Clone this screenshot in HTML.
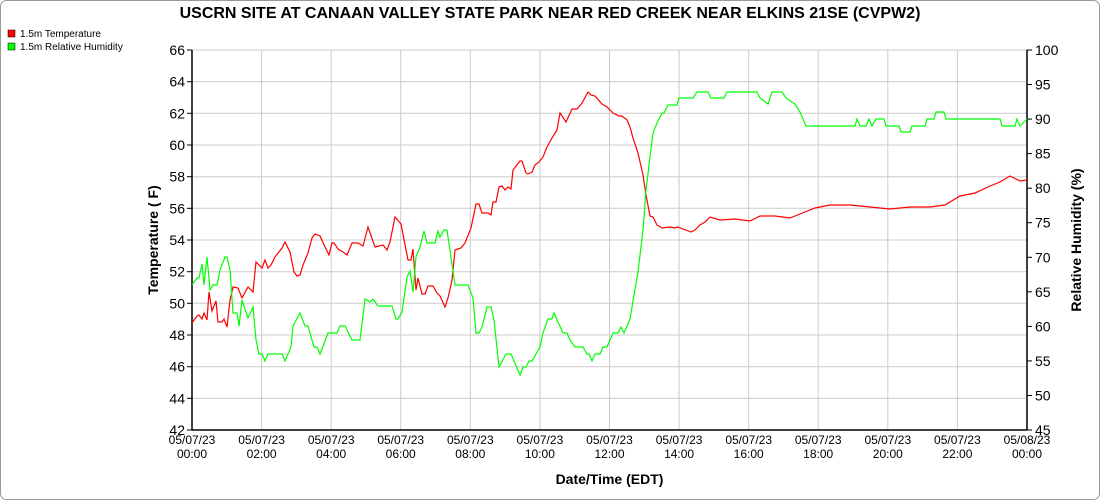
<!DOCTYPE html>
<html><head><meta charset="utf-8"><style>
body{margin:0;background:#fff;}
svg{display:block;font-family:"Liberation Sans",sans-serif;}
</style></head><body>
<svg width="1100" height="500" viewBox="0 0 1100 500">
<rect x="0.5" y="0.5" width="1099" height="499" rx="6" fill="#fff" stroke="#999"/>
<text x="550" y="18" font-size="16" font-weight="bold" text-anchor="middle">USCRN SITE AT CANAAN VALLEY STATE PARK NEAR RED CREEK NEAR ELKINS 21SE (CVPW2)</text>
<rect x="8" y="30" width="7" height="7" fill="#f00" stroke="#000" stroke-width="0.5"/>
<text x="20" y="37" font-size="10">1.5m Temperature</text>
<rect x="8" y="43" width="7" height="7" fill="#0f0" stroke="#000" stroke-width="0.5"/>
<text x="20" y="50" font-size="10">1.5m Relative Humidity</text>
<g stroke="#ccc" stroke-width="1">
<line x1="192" y1="50" x2="1027" y2="50"/><line x1="192" y1="81.7" x2="1027" y2="81.7"/><line x1="192" y1="113.3" x2="1027" y2="113.3"/><line x1="192" y1="145" x2="1027" y2="145"/><line x1="192" y1="176.7" x2="1027" y2="176.7"/><line x1="192" y1="208.3" x2="1027" y2="208.3"/><line x1="192" y1="240" x2="1027" y2="240"/><line x1="192" y1="271.7" x2="1027" y2="271.7"/><line x1="192" y1="303.3" x2="1027" y2="303.3"/><line x1="192" y1="335" x2="1027" y2="335"/><line x1="192" y1="366.7" x2="1027" y2="366.7"/><line x1="192" y1="398.3" x2="1027" y2="398.3"/>
<line x1="261.6" y1="50" x2="261.6" y2="430"/><line x1="331.2" y1="50" x2="331.2" y2="430"/><line x1="400.7" y1="50" x2="400.7" y2="430"/><line x1="470.3" y1="50" x2="470.3" y2="430"/><line x1="539.9" y1="50" x2="539.9" y2="430"/><line x1="609.5" y1="50" x2="609.5" y2="430"/><line x1="679.1" y1="50" x2="679.1" y2="430"/><line x1="748.7" y1="50" x2="748.7" y2="430"/><line x1="818.2" y1="50" x2="818.2" y2="430"/><line x1="887.8" y1="50" x2="887.8" y2="430"/><line x1="957.4" y1="50" x2="957.4" y2="430"/>
</g>
<g stroke="#000" stroke-width="1.5" fill="none">
<line x1="192" y1="50" x2="192" y2="430"/><line x1="1027" y1="50" x2="1027" y2="430"/><line x1="192" y1="430" x2="1027" y2="430"/>
</g>
<g stroke="#000" stroke-width="1">
<line x1="187" y1="50" x2="192" y2="50"/><line x1="187" y1="81.7" x2="192" y2="81.7"/><line x1="187" y1="113.3" x2="192" y2="113.3"/><line x1="187" y1="145" x2="192" y2="145"/><line x1="187" y1="176.7" x2="192" y2="176.7"/><line x1="187" y1="208.3" x2="192" y2="208.3"/><line x1="187" y1="240" x2="192" y2="240"/><line x1="187" y1="271.7" x2="192" y2="271.7"/><line x1="187" y1="303.3" x2="192" y2="303.3"/><line x1="187" y1="335" x2="192" y2="335"/><line x1="187" y1="366.7" x2="192" y2="366.7"/><line x1="187" y1="398.3" x2="192" y2="398.3"/><line x1="187" y1="430" x2="192" y2="430"/>
<line x1="1027" y1="50" x2="1032" y2="50"/><line x1="1027" y1="84.5" x2="1032" y2="84.5"/><line x1="1027" y1="119.1" x2="1032" y2="119.1"/><line x1="1027" y1="153.6" x2="1032" y2="153.6"/><line x1="1027" y1="188.2" x2="1032" y2="188.2"/><line x1="1027" y1="222.7" x2="1032" y2="222.7"/><line x1="1027" y1="257.3" x2="1032" y2="257.3"/><line x1="1027" y1="291.8" x2="1032" y2="291.8"/><line x1="1027" y1="326.4" x2="1032" y2="326.4"/><line x1="1027" y1="360.9" x2="1032" y2="360.9"/><line x1="1027" y1="395.5" x2="1032" y2="395.5"/><line x1="1027" y1="430" x2="1032" y2="430"/>
</g>
<g font-size="14" text-anchor="end">
<text x="185" y="55">66</text><text x="185" y="86.7">64</text><text x="185" y="118.3">62</text><text x="185" y="150">60</text><text x="185" y="181.7">58</text><text x="185" y="213.3">56</text><text x="185" y="245">54</text><text x="185" y="276.7">52</text><text x="185" y="308.3">50</text><text x="185" y="340">48</text><text x="185" y="371.7">46</text><text x="185" y="403.3">44</text><text x="185" y="435">42</text>
</g>
<g font-size="14" text-anchor="start">
<text x="1035" y="55">100</text><text x="1035" y="89.5">95</text><text x="1035" y="124">90</text><text x="1035" y="158.6">85</text><text x="1035" y="193.2">80</text><text x="1035" y="227.7">75</text><text x="1035" y="262.3">70</text><text x="1035" y="296.8">65</text><text x="1035" y="331.4">60</text><text x="1035" y="365.9">55</text><text x="1035" y="400.5">50</text><text x="1035" y="435">45</text>
</g>
<g font-size="12" text-anchor="middle">
<text x="192" y="444">05/07/23</text><text x="192" y="458">00:00</text>
<text x="261.6" y="444">05/07/23</text><text x="261.6" y="458">02:00</text>
<text x="331.2" y="444">05/07/23</text><text x="331.2" y="458">04:00</text>
<text x="400.7" y="444">05/07/23</text><text x="400.7" y="458">06:00</text>
<text x="470.3" y="444">05/07/23</text><text x="470.3" y="458">08:00</text>
<text x="539.9" y="444">05/07/23</text><text x="539.9" y="458">10:00</text>
<text x="609.5" y="444">05/07/23</text><text x="609.5" y="458">12:00</text>
<text x="679.1" y="444">05/07/23</text><text x="679.1" y="458">14:00</text>
<text x="748.7" y="444">05/07/23</text><text x="748.7" y="458">16:00</text>
<text x="818.2" y="444">05/07/23</text><text x="818.2" y="458">18:00</text>
<text x="887.8" y="444">05/07/23</text><text x="887.8" y="458">20:00</text>
<text x="957.4" y="444">05/07/23</text><text x="957.4" y="458">22:00</text>
<text x="1027" y="444">05/08/23</text><text x="1027" y="458">00:00</text>
</g>
<text x="609.5" y="484" font-size="14" font-weight="bold" text-anchor="middle">Date/Time (EDT)</text>
<text transform="translate(158,240) rotate(-90)" font-size="14" font-weight="bold" text-anchor="middle">Temperature ( F)</text>
<text transform="translate(1081,240) rotate(-90)" font-size="14" font-weight="bold" text-anchor="middle">Relative Humidity (%)</text>
<polyline fill="none" stroke="#f00" stroke-width="1.2" points="192,323 197,316 199,315 202,319 204,313 207,320 209,292 212,311 216,301 218,322 222,322 224,319 227,327 230,300 233,287 238,288 242,298 248,287 253,292 256,262 262,268 265,260 268,268 271,265 275,257 282,248 285,242 290,252 294,272 297,276 300,275 303,265 308,253 312,238 315,234 320,236 325,247 329,255 332,243 334,243 338,249 343,252 347,255 352,243 358,243 363,246 368,227 375,247 383,245 387,250 390,242 395,217 401,224 408,260 411,260 413,249 416,290 418,278 422,294 425,294 428,286 433,286 437,293 440,296 445,307 448,298 452,280 455,250 461,248 465,243 471,228 476,204 479,204 482,213 488,213 491,215 493,202 496,202 499,187 502,186 505,190 508,187 511,189 513,170 520,161 522,161 526,173 528,174 532,172 535,165 539,162 543,157 547,147 552,138 557,130 560,113 566,122 572,109 577,109 582,103 588,92 591,95 595,96 602,104 607,107 613,113 619,116 622,116 627,120 630,127 633,138 638,153 643,175 646,195 650,216 653,217 657,225 662,228 670,227 675,228 678,227 683,229 691,232 695,230 700,225 705,222 710,217 720,220 735,219 750,221 760,216 775,216 790,218 800,214 815,208 830,205 850,205 870,207 890,209 910,207 930,207 945,205 960,196 975,193 990,186 1000,182 1010,176 1020,181 1027,180"/>
<polyline fill="none" stroke="#0f0" stroke-width="1.2" points="192,285 197,278 199,278 202,264 204,285 207,257 210,290 213,285 217,285 220,270 225,257 227,257 230,270 233,313 237,313 239,326 242,300 248,318 253,307 256,340 259,354 262,354 265,361 268,354 282,354 285,361 291,347 293,326 300,313 305,326 308,326 312,340 314,347 317,347 320,354 328,333 337,333 340,326 345,326 352,340 360,340 365,299 370,302 373,299 378,306 392,306 396,319 398,319 402,312 407,277 410,271 413,292 416,257 420,247 424,231 427,243 435,243 438,231 440,237 444,230 447,230 455,285 468,285 473,298 476,333 479,333 482,327 487,307 491,307 494,320 499,367 506,354 511,354 520,375 523,367 526,367 529,361 532,361 536,354 540,347 543,333 548,319 552,319 554,313 563,333 567,333 570,340 575,347 583,347 587,354 589,354 592,361 595,354 600,354 603,347 607,347 613,333 618,333 621,327 624,333 630,319 632,307 638,272 643,230 646,190 650,157 653,133 657,123 662,113 664,113 668,105 677,105 679,98 693,98 697,92 708,92 711,98 724,98 727,92 757,92 760,98 768,104 772,92 782,92 786,98 795,104 800,112 806,126 855,126 857,119 860,126 866,126 869,119 872,126 876,119 884,119 886,126 899,126 901,132 910,132 912,126 925,126 927,119 934,119 936,112 944,112 946,119 956,119 958,119 1000,119 1002,126 1015,126 1017,119 1020,126 1027,119"/>
</svg>
</body></html>
